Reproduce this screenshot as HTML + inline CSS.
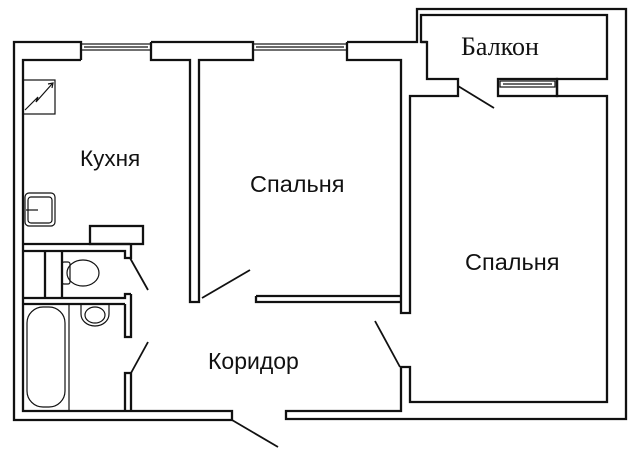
<!DOCTYPE html>
<html><head><meta charset="utf-8"><style>
html,body{margin:0;padding:0;background:#fff;width:640px;height:457px;overflow:hidden}
svg{display:block}
text{font-family:"Liberation Sans","DejaVu Sans",sans-serif;fill:#111}
</style></head><body>
<svg width="640" height="457" viewBox="0 0 640 457" xmlns="http://www.w3.org/2000/svg">
<g fill="none" stroke="#111" stroke-width="2.3">
<polyline points="81,60 81,42 14,42 14,420 232,420 232,411 23,411 23,60 81,60"/>
<polyline points="151,42 253,42 253,60 199,60 199,302 190,302 190,60 151,60 151,42"/>
<polyline points="347,42 417,42 417,9 626,9 626,419 286,419 286,411 401,411 401,367 410,367 410,402 607,402 607,96 557,96 557,79 607,79 607,15 421,15 421,42 427,42 427,79 458,79 458,96 410,96 410,313 401,313 401,60 347,60 347,42"/>
<line x1="421" y1="42" x2="427" y2="42"/>
<rect x="498" y="79" width="59" height="17"/>
<polyline points="256,296 401,296"/>
<polyline points="256,296 256,302 401,302"/>
<polyline points="23,244 130,244"/>
<rect x="90" y="226" width="53" height="18"/>
<polyline points="23,251 125,251 125,258 131,258 131,244"/>
<polyline points="23,298 125,298 125,294 131,294"/>
<polyline points="23,304 125,304"/>
<polyline points="125,304 125,337 131,337 131,294"/>
<polyline points="125,411 125,373 131,373 131,411"/>
<line x1="45" y1="251" x2="45" y2="298"/>
<line x1="62" y1="251" x2="62" y2="298"/>
<line x1="130" y1="258" x2="148" y2="290" stroke-width="1.8"/>
<line x1="131" y1="373" x2="148" y2="342" stroke-width="1.8"/>
<line x1="202" y1="298" x2="250" y2="270" stroke-width="1.8"/>
<line x1="232" y1="420" x2="278" y2="447" stroke-width="1.8"/>
<line x1="400" y1="367" x2="375" y2="321" stroke-width="1.8"/>
<line x1="458" y1="86" x2="494" y2="108" stroke-width="1.8"/>
</g>
<g fill="none" stroke="#111" stroke-width="1.2">
<rect x="81" y="44" width="70" height="6"/><line x1="84" y1="47" x2="148" y2="47"/>
<rect x="253" y="44" width="94" height="6"/><line x1="256" y1="47" x2="344" y2="47"/>
<rect x="500" y="81" width="55" height="6"/><line x1="503" y1="84" x2="552" y2="84"/>
<rect x="23" y="80" width="32" height="34"/>
<polyline points="25,110 38,97 36,102 52,84"/>
<polyline points="48,84 53,83 52,88"/>
<rect x="25" y="193" width="30" height="33" rx="4"/>
<rect x="28" y="197" width="24" height="26" rx="3"/>
<line x1="26" y1="210" x2="38" y2="210"/>
<rect x="62" y="262" width="8" height="22" rx="2"/>
<ellipse cx="83" cy="273" rx="16" ry="13"/>
<rect x="27" y="307" width="38" height="100" rx="16"/>
<line x1="69" y1="304" x2="69" y2="411"/>
<path d="M81,304 L81,314 A14,12 0 0 0 109,314 L109,304"/>
<ellipse cx="95" cy="315" rx="10" ry="8"/>
</g>
<text x="80" y="166" font-size="22.5">Кухня</text>
<text x="250" y="192" font-size="23.5">Спальня</text>
<text x="465" y="270" font-size="23.5">Спальня</text>
<text x="208" y="369" font-size="23">Коридор</text>
<text x="461" y="55" font-size="26" style="font-family:'Liberation Serif',serif">Балкон</text>
</svg>
</body></html>
